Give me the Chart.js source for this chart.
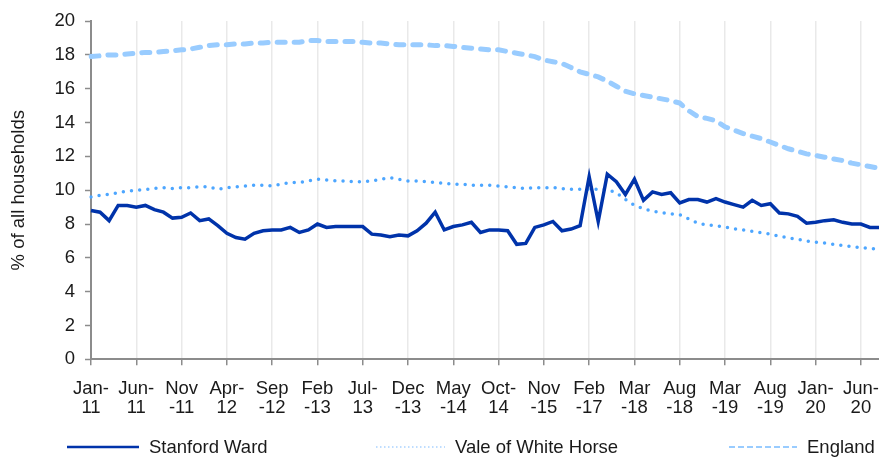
<!DOCTYPE html>
<html>
<head>
<meta charset="utf-8">
<script src="https://cdn.jsdelivr.net/npm/chart.js@4"></script>
<style>
  html, body { margin: 0; padding: 0; background: #fff; }
  #wrap { position: relative; width: 879px; height: 458px; }
  #legend { position: absolute; left: 0; top: 436px; width: 879px; height: 22px;
            font-family: 'Liberation Sans', Arial, sans-serif; font-size: 18.5px; color: #1a1a1a; }
  .item { position: absolute; top: 0; height: 22px; display: flex; align-items: center; white-space: nowrap; }
  .item svg { margin-right: 10px; }
</style>
</head>
<body>
<div id="wrap">
  <canvas id="chart"></canvas>
  <div id="legend"></div>
</div>
<script>
const tickLabels = [
    ['Jan-', '11'], ['Jun-', '11'], ['Nov', '-11'], ['Apr-', '12'], ['Sep', '-12'], ['Feb', '-13'],
    ['Jul-', '13'], ['Dec', '-13'], ['May', '-14'], ['Oct-', '14'], ['Nov', '-15'], ['Feb', '-17'],
    ['Mar', '-18'], ['Aug', '-18'], ['Mar', '-19'], ['Aug', '-19'], ['Jan-', '20'], ['Jun-', '20']
];

const stanfordWard = [
    8.8, 8.7, 8.2, 9.1, 9.1, 9.0, 9.1, 8.85, 8.7, 8.35,
    8.4, 8.65, 8.2, 8.3, 7.9, 7.45, 7.2, 7.1, 7.45, 7.6,
    7.65, 7.65, 7.8, 7.5, 7.65, 8.0, 7.8, 7.85, 7.85, 7.85,
    7.85, 7.4, 7.35, 7.25, 7.35, 7.3, 7.6, 8.05, 8.7, 7.65,
    7.85, 7.95, 8.1, 7.5, 7.65, 7.65, 7.6, 6.8, 6.85, 7.8,
    7.95, 8.15, 7.6, 7.7, 7.9, 10.8, 8.15, 10.95, 10.5, 9.75,
    10.65, 9.4, 9.9, 9.75, 9.85, 9.25, 9.45, 9.45, 9.3, 9.5,
    9.3, 9.15, 9.0, 9.4, 9.1, 9.2, 8.65, 8.6, 8.45, 8.05,
    8.1, 8.2, 8.25, 8.1, 8.0, 8.0, 7.8, 7.8
];

const valeOfWhiteHorse = [
    9.6, 9.7, 9.75, 9.85, 9.95, 10.0, 10.05, 10.1, 10.15, 10.1,
    10.15, 10.15, 10.2, 10.2, 10.05, 10.15, 10.2, 10.25, 10.3, 10.3,
    10.25, 10.35, 10.45, 10.45, 10.55, 10.65, 10.6, 10.55, 10.55, 10.5,
    10.5, 10.55, 10.65, 10.75, 10.65, 10.55, 10.55, 10.5, 10.45, 10.4,
    10.35, 10.35, 10.3, 10.3, 10.3, 10.25, 10.2, 10.15, 10.1, 10.15,
    10.15, 10.15, 10.1, 10.05, 10.05, 10.05, 10.05, 10.05, 9.85, 9.45,
    9.1, 8.9, 8.75, 8.68, 8.6, 8.55, 8.3, 8.05, 7.95, 7.9,
    7.82, 7.72, 7.65, 7.57, 7.48, 7.4, 7.28, 7.18, 7.1, 7.0,
    6.92, 6.87, 6.8, 6.72, 6.67, 6.6, 6.55, 6.5
];

const england = [
    17.9, 17.95, 18.0, 18.0, 18.05, 18.1, 18.15, 18.15, 18.2, 18.25,
    18.3, 18.35, 18.45, 18.55, 18.6, 18.6, 18.65, 18.65, 18.7, 18.7,
    18.75, 18.75, 18.75, 18.75, 18.85, 18.85, 18.8, 18.8, 18.8, 18.8,
    18.75, 18.7, 18.7, 18.65, 18.6, 18.6, 18.6, 18.6, 18.55, 18.55,
    18.5, 18.45, 18.4, 18.35, 18.3, 18.3, 18.2, 18.1, 18.0, 17.9,
    17.7, 17.6, 17.5, 17.25, 17.0, 16.85, 16.7, 16.45, 16.15, 15.85,
    15.7, 15.6, 15.5, 15.4, 15.3, 15.15, 14.7, 14.35, 14.25, 14.1,
    13.75, 13.55, 13.35, 13.2, 13.05, 12.85, 12.65, 12.45, 12.3, 12.15,
    12.05, 11.95, 11.85, 11.75, 11.6, 11.5, 11.4, 11.3
];

// one category per data point, named only where a tick label sits
const categories = stanfordWard.map((_, i) => i % 5 === 0 ? tickLabels[i / 5].join('') : '');

const FONT = "'Liberation Sans', Arial, sans-serif";
const AXIS = '#8c8c8c';

Chart.defaults.font.family = FONT;
Chart.defaults.color = '#1a1a1a';

const legendItems = [
    { label: 'Stanford Ward',       left: 67,  w: 72, color: '#0033aa', width: 2.5, dash: '' },
    { label: 'Vale of White Horse', left: 376, w: 69, color: '#a9d2ff', width: 1.5, dash: '1.5 2.5' },
    { label: 'England',             left: 729, w: 68, color: '#99ccff', width: 2,   dash: '6 3' }
];

const legend = document.getElementById('legend');
legendItems.forEach(it => {
    const div = document.createElement('div');
    div.className = 'item';
    div.style.left = it.left + 'px';
    div.innerHTML =
        `<svg width="${it.w}" height="6"><line x1="0" y1="3" x2="${it.w}" y2="3" stroke="${it.color}" ` +
        `stroke-width="${it.width}" stroke-dasharray="${it.dash}"/></svg><span>${it.label}</span>`;
    legend.appendChild(div);
});

new Chart(document.getElementById('chart'), {
    type: 'line',
    data: {
        labels: categories,
        datasets: [
            {
                label: 'Stanford Ward',
                data: stanfordWard,
                borderColor: '#0033aa',
                borderWidth: 3.5,
                pointRadius: 0,
                tension: 0
            },
            {
                label: 'Vale of White Horse',
                data: valeOfWhiteHorse,
                borderColor: '#4da6ff',
                borderWidth: 3.5,
                borderDash: [0, 8.2],
                borderCapStyle: 'round',
                pointRadius: 0,
                tension: 0
            },
            {
                label: 'England',
                data: england,
                borderColor: '#99ccff',
                borderWidth: 5,
                borderDash: [8, 9],
                borderCapStyle: 'round',
                pointRadius: 0,
                tension: 0
            }
        ]
    },
    options: {
        responsive: true,
        maintainAspectRatio: false,
        animation: false,
        layout: { padding: { top: 14.7, right: 0, bottom: 0, left: 0 } },
        plugins: {
            legend: { display: false },
            tooltip: { enabled: false }
        },
        scales: {
            x: {
                afterBuildTicks: scale => {
                    scale.ticks = scale.ticks.filter(t => t.value % 5 === 0);
                },
                afterFit: scale => {
                    scale.height = 98.7;
                    scale.paddingLeft = 0;
                    scale.paddingRight = 0;
                },
                grid: {
                    color: ctx => ctx.index === 0 ? 'rgba(0,0,0,0)' : '#e9e9e9',
                    lineWidth: 1.5,
                    tickColor: AXIS,
                    tickWidth: 1.5,
                    tickLength: 6
                },
                border: { color: AXIS, width: 2 },
                ticks: {
                    autoSkip: false,
                    maxRotation: 0,
                    padding: 13.6,
                    color: '#1a1a1a',
                    font: { size: 18.5, lineHeight: 1.045 },
                    callback: value => tickLabels[value / 5]
                }
            },
            y: {
                min: 0,
                max: 20,
                afterFit: scale => { scale.width = 91; },
                grid: {
                    drawOnChartArea: false,
                    tickColor: AXIS,
                    tickWidth: 1.5,
                    tickLength: 6
                },
                border: { color: AXIS, width: 2 },
                ticks: {
                    stepSize: 2,
                    padding: 10,
                    color: '#1a1a1a',
                    font: { size: 18.5 }
                },
                title: {
                    display: true,
                    text: '% of all households',
                    color: '#1a1a1a',
                    font: { size: 18.5, lineHeight: 1.2 },
                    padding: { top: 8, bottom: 0 }
                }
            }
        }
    }
});
</script>
</body>
</html>
